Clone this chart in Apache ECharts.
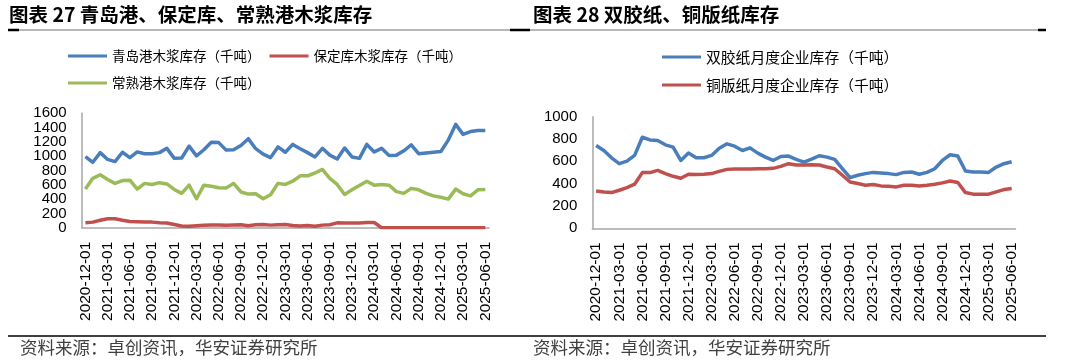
<!DOCTYPE html>
<html>
<head>
<meta charset="utf-8">
<script src="https://cdn.jsdelivr.net/npm/echarts@6/dist/echarts.min.js"></script>
<style>
html,body{margin:0;padding:0;background:#fff;}
#c{width:1080px;height:363px;}
</style>
</head>
<body>
<div id="c"></div>
<script>
const dates = [
 '2020-12-01','2021-01-01','2021-02-01','2021-03-01','2021-04-01','2021-05-01','2021-06-01','2021-07-01','2021-08-01','2021-09-01','2021-10-01','2021-11-01','2021-12-01',
 '2022-01-01','2022-02-01','2022-03-01','2022-04-01','2022-05-01','2022-06-01','2022-07-01','2022-08-01','2022-09-01','2022-10-01','2022-11-01','2022-12-01',
 '2023-01-01','2023-02-01','2023-03-01','2023-04-01','2023-05-01','2023-06-01','2023-07-01','2023-08-01','2023-09-01','2023-10-01','2023-11-01','2023-12-01',
 '2024-01-01','2024-02-01','2024-03-01','2024-04-01','2024-05-01','2024-06-01','2024-07-01','2024-08-01','2024-09-01','2024-10-01','2024-11-01','2024-12-01',
 '2025-01-01','2025-02-01','2025-03-01','2025-04-01','2025-05-01','2025-06-01'
];
const qingdao = [995,915,1050,955,925,1055,980,1060,1035,1035,1050,1110,970,975,1140,1005,1090,1195,1190,1085,1090,1150,1245,1105,1030,980,1130,1055,1165,1105,1050,990,1110,1015,960,1115,990,970,1165,1060,1110,1010,1015,1075,1160,1035,1045,1055,1065,1225,1445,1305,1345,1360,1360];
const baoding = [70,78,105,125,125,105,88,82,78,78,70,65,45,25,20,28,36,38,38,36,38,42,28,42,45,36,42,45,32,25,32,20,36,42,68,65,65,65,72,72,0,0,0,0,0,0,0,0,0,0,0,0,0,0,0];
const changshu = [540,690,740,675,620,660,665,540,620,605,630,612,535,480,595,405,595,580,560,555,620,500,470,475,405,460,620,605,650,725,725,765,815,690,605,465,530,590,650,595,605,595,505,480,550,530,480,445,425,400,540,475,445,530,535];
const shuangjiao = [742,697,632,579,602,653,816,792,786,748,727,608,674,632,632,653,718,757,736,697,721,674,638,608,644,647,617,593,620,650,638,617,534,454,475,490,501,496,490,481,501,504,484,501,534,608,659,647,513,504,504,501,549,579,596];
const tongban = [335,326,320,341,365,395,499,499,519,490,466,448,484,481,484,490,510,528,531,531,531,534,534,537,555,579,567,567,570,567,549,534,475,415,401,386,392,380,377,371,386,386,380,386,395,407,424,410,320,306,306,306,326,347,356];
const leftYTicks = [0,200,400,600,800,1000,1200,1400,1600];
const rightYTicks = [0,200,400,600,800,1000];
const names = {
  qd:'青岛港木浆库存（千吨）', bd:'保定库木浆库存（千吨）', cs:'常熟港木浆库存（千吨）',
  sj:'双胶纸月度企业库存（千吨）', tb:'铜版纸月度企业库存（千吨）'
};
const titles = ['图表 27 青岛港、保定库、常熟港木浆库存','图表 28 双胶纸、铜版纸库存'];
const source = '资料来源：卓创资讯，华安证券研究所';

const BLUE='#4A7EBB', RED='#C0504D', GREEN='#9BBB59';
const cjk = '"Noto Sans CJK SC", sans-serif';
const num = '"Liberation Sans", Arial, sans-serif';

const chart = echarts.init(document.getElementById('c'), null, {renderer:'canvas'});

function xAxis(gi){
  return {type:'category', gridIndex:gi, data:dates, boundaryGap:true,
    axisLine:{lineStyle:{color:'#A6A6A6', width:1.5}},
    axisTick:{show:false},
    axisLabel:{interval:2, rotate:90, margin:14, fontSize:15.5, fontFamily:num, color:'#000'},
    splitLine:{show:false}};
}
// part: null -> all tick labels; 0 -> even-index labels; 1 -> odd-index labels
function yAxis(gi, ticks, part, showLine){
  const mx = ticks[ticks.length-1];
  const vals = part === null ? ticks : ticks.filter(function(v, i){ return i % 2 === part; });
  return {type:'value', gridIndex:gi, min:ticks[0], max:mx, interval:ticks[1]-ticks[0], position:'left',
    axisLine:{show:showLine, onZero:false, lineStyle:{color:'#A6A6A6', width:1.5}},
    axisTick:{show:false},
    axisLabel:{margin:15, fontSize:15, fontFamily:num, color:'#000',
      customValues:vals, showMinLabel:true, showMaxLabel:true, hideOverlap:false,
      formatter:function(v){return String(v);}},
    splitLine:{show:false}};
}
function line(name, data, color, gi){
  return {type:'line', name:name, data:data, xAxisIndex:gi, yAxisIndex:gi,
    symbol:'none', smooth:false, lineStyle:{color:color, width:3.5, join:'round'}, itemStyle:{color:color},
    emphasis:{disabled:true}, animation:false};
}
function legend(data, left, top, fs){
  return {data:data, left:left, top:top, orient:'horizontal', padding:0, itemGap:9,
    icon:'rect', itemWidth:39, itemHeight:3, selectedMode:false,
    textStyle:{fontSize:fs, fontFamily:cjk, color:'#000', lineHeight:16}};
}

chart.setOption({
  animation:false,
  title:[
    {text:titles[0], left:9, top:5, padding:0, textStyle:{fontSize:19.5, fontWeight:'bold', fontFamily:cjk, color:'#000'}},
    {text:titles[1], left:533, top:5, padding:0, textStyle:{fontSize:19.5, fontWeight:'bold', fontFamily:cjk, color:'#000'}}
  ],
  legend:[
    legend([names.qd, names.bd], 68, 48, 13.5),
    legend([names.cs], 68, 75, 13.5),
    legend([names.sj], 662, 49, 14.8),
    legend([names.tb], 662, 77, 14.8)
  ],
  grid:[
    {left:81.7, top:113.3, width:407.3, height:114.4},
    {left:592.3, top:116.7, width:423.2, height:111.6}
  ],
  xAxis:[xAxis(0), xAxis(1)],
  yAxis:[yAxis(0, leftYTicks, 0, true), yAxis(1, rightYTicks, null, true), yAxis(0, leftYTicks, 1, false)],
  series:[
    line(names.qd, qingdao, BLUE, 0),
    line(names.bd, baoding, RED, 0),
    line(names.cs, changshu, GREEN, 0),
    line(names.sj, shuangjiao, BLUE, 1),
    line(names.tb, tongban, RED, 1)
  ],
  graphic:[
    {type:'line', shape:{x1:19, y1:30, x2:510, y2:30}, style:{stroke:'#707070', lineWidth:1}},
    {type:'line', shape:{x1:8, y1:30, x2:19, y2:30}, style:{stroke:'#000', lineWidth:2.5}},
    {type:'line', shape:{x1:510, y1:30, x2:530, y2:30}, style:{stroke:'#000', lineWidth:2.5}},
    {type:'line', shape:{x1:530, y1:30, x2:1038, y2:30}, style:{stroke:'#707070', lineWidth:1}},
    {type:'line', shape:{x1:1038, y1:30, x2:1046, y2:30}, style:{stroke:'#000', lineWidth:2.5}},
    {type:'line', shape:{x1:8, y1:336, x2:1046, y2:336}, style:{stroke:'#000', lineWidth:1.5}},
    {type:'text', left:20, top:339, style:{text:source, font:'17.5px "Noto Sans CJK SC", sans-serif', fill:'#404040'}},
    {type:'text', left:533, top:339, style:{text:source, font:'17.5px "Noto Sans CJK SC", sans-serif', fill:'#404040'}}
  ]
});
</script>
</body>
</html>
